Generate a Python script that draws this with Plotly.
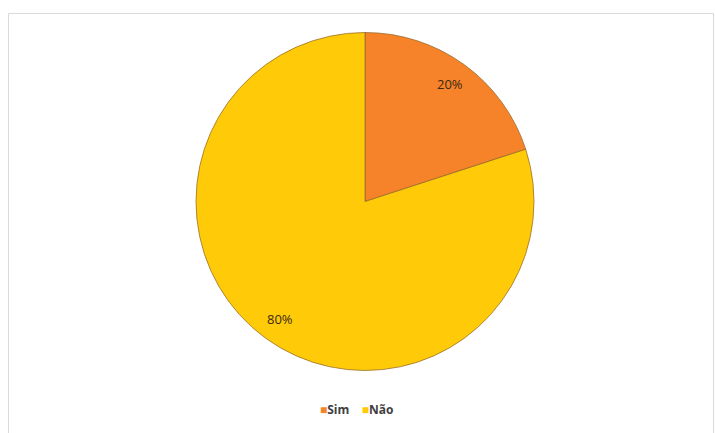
import math
import plotly.graph_objects as go

# Survey answers (share of respondents)
labels = ["Sim", "Não"]
values = [20, 80]
colors = ["#F6822A", "#FFCA08"]

W, H = 715, 433
cx, cy, r = 365, 201.5, 169
FONT = "Open Sans, Liberation Sans, sans-serif"

fig = go.Figure(
    go.Pie(
        labels=labels,
        values=values,
        sort=False,
        direction="clockwise",
        rotation=0,
        marker=dict(colors=colors, line=dict(color="rgba(150,105,40,0.75)", width=1)),
        textinfo="none",
        hoverinfo="label+percent",
        showlegend=False,
        domain=dict(
            x=[(cx - r) / W, (cx + r) / W],
            y=[1 - (cy + r) / H, 1 - (cy - r) / H],
        ),
    )
)

# Percentage labels placed near the rim, at each slice's mid-angle
total = sum(values)
annotations = []
start = 0.0
for lab, v in zip(labels, values):
    share = v / total
    mid = (start + share / 2) * 2 * math.pi  # clockwise from 12 o'clock
    start += share
    rr = 0.86 * r
    px = cx + rr * math.sin(mid)
    py = cy - rr * math.cos(mid)
    annotations.append(
        dict(
            x=px / W,
            y=1 - py / H,
            xref="paper",
            yref="paper",
            xanchor="center",
            yanchor="middle",
            text=f"{share:.0%}",
            showarrow=False,
            font=dict(family=FONT, size=13, color="#3B2A12"),
        )
    )

# Compact legend line beneath the pie
legend_text = "&nbsp;&nbsp;&nbsp;&nbsp;".join(
    f'<span style="color:{c}">■</span><b>{lab}</b>' for lab, c in zip(labels, colors)
)
annotations.append(
    dict(
        x=356 / W,
        y=1 - 409 / H,
        xref="paper",
        yref="paper",
        xanchor="center",
        yanchor="middle",
        text=legend_text,
        showarrow=False,
        font=dict(family=FONT, size=12, color="#404040"),
    )
)

fig.update_layout(
    width=W,
    height=H,
    margin=dict(l=0, r=0, t=0, b=0),
    paper_bgcolor="white",
    plot_bgcolor="white",
    showlegend=False,
    annotations=annotations,
    shapes=[
        dict(
            type="rect",
            xref="paper",
            yref="paper",
            x0=8.5 / W,
            x1=713.5 / W,
            y0=-0.05,
            y1=1 - 13.5 / H,
            line=dict(color="#D9D9D9", width=1),
            fillcolor="rgba(0,0,0,0)",
            layer="below",
        )
    ],
)

fig.write_html("out.html")
